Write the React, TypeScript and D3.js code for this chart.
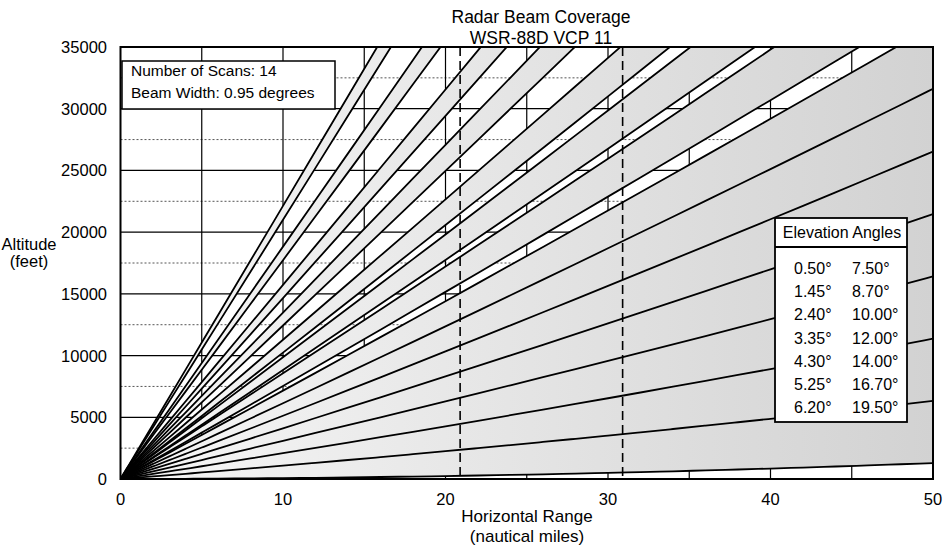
import React from "react";
import * as d3 from "d3";

// ---- data ----
const elevationAngles = [0.5, 1.45, 2.4, 3.35, 4.3, 5.25, 6.2, 7.5, 8.7, 10.0, 12.0, 14.0, 16.7, 19.5];
const beamWidthDeg = 0.95;
const legendLeft = ["0.50°", "1.45°", "2.40°", "3.35°", "4.30°", "5.25°", "6.20°"];
const legendRight = ["7.50°", "8.70°", "10.00°", "12.00°", "14.00°", "16.70°", "19.50°"];
const xTicks = [0, 10, 20, 30, 40, 50];
const xGrid = [5, 10, 15, 20, 25, 30, 35, 40, 45];
const yTicks = [0, 5000, 10000, 15000, 20000, 25000, 30000, 35000];
const yGrid = [5000, 10000, 15000, 20000, 25000, 30000];
const yMinorGrid = [2500, 7500, 12500, 17500, 22500, 27500, 32500];
const dashedRanges = [20.9, 30.9];
const rangeSamples = [0, 0.5, 1, 2, 3, 4, 5, 6, 8, 10, 12, 14, 16, 18, 20, 22, 24, 26, 28, 30, 32, 34, 36, 38, 40, 42, 44, 46, 48, 50];
const FT_PER_NM = 6076;
const CURVATURE_FT_PER_NM2 = 0.463;
const infoLines = ["Number of Scans: 14", "Beam Width: 0.95 degrees"];

const W = 948, H = 556;
const left = 120.5, right = 933, top = 47, bottom = 479;
const FONT = "'Liberation Sans', Arial, Helvetica, sans-serif";

const beamHeight = (r: number, deg: number) =>
  r * FT_PER_NM * Math.tan((deg * Math.PI) / 180) + CURVATURE_FT_PER_NM2 * r * r;

export default function App() {
  const x = d3.scaleLinear().domain([0, 50]).range([left, right]);
  const y = d3.scaleLinear().domain([0, 35000]).range([bottom, top]);

  const edges: number[] = [];
  elevationAngles.forEach((a) => {
    const lo = +(a - beamWidthDeg / 2).toFixed(3);
    const hi = +(a + beamWidthDeg / 2).toFixed(3);
    if (!edges.some((e) => Math.abs(e - lo) < 1e-6)) edges.push(lo);
    if (!edges.some((e) => Math.abs(e - hi) < 1e-6)) edges.push(hi);
  });

  const area = (a: number) =>
    d3
      .area<number>()
      .x((r) => x(r))
      .y0((r) => y(beamHeight(r, a - beamWidthDeg / 2)))
      .y1((r) => y(beamHeight(r, a + beamWidthDeg / 2)))
      .curve(d3.curveMonotoneX)(rangeSamples) || "";

  const line = (deg: number) =>
    d3
      .line<number>()
      .x((r) => x(r))
      .y((r) => y(beamHeight(r, deg)))
      .curve(d3.curveMonotoneX)(rangeSamples) || "";

  const legX = 775, legY = 218, legW = 132, legH = 204;

  return (
    <svg
      width={W}
      height={H}
      viewBox={`0 0 ${W} ${H}`}
      style={{ position: "absolute", left: 0, top: 0, background: "#fff" }}
      fontFamily={FONT}
    >
      <defs>
        <clipPath id="plot">
          <rect x={left} y={top} width={right - left} height={bottom - top} />
        </clipPath>
        <linearGradient id="stipple" gradientUnits="userSpaceOnUse" x1={left} y1={0} x2={right} y2={0}>
          <stop offset="0" stopColor="#f7f7f7" />
          <stop offset="0.45" stopColor="#e6e6e6" />
          <stop offset="1" stopColor="#d2d2d2" />
        </linearGradient>
      </defs>
      <rect x={0} y={0} width={W} height={H} fill="#fff" />

      {/* title */}
      <text x={541} y={23} textAnchor="middle" fontSize={17.5}>Radar Beam Coverage</text>
      <text x={541} y={44} textAnchor="middle" fontSize={17.5}>WSR-88D VCP 11</text>

      <g clipPath="url(#plot)">
        {/* grid */}
        {yMinorGrid.map((v) => (
          <line key={"ym" + v} x1={left} x2={right} y1={y(v)} y2={y(v)} stroke="#555" strokeWidth={1} strokeDasharray="2,2" />
        ))}
        {yGrid.map((v) => (
          <line key={"yg" + v} x1={left} x2={right} y1={y(v)} y2={y(v)} stroke="#000" strokeWidth={1.2} />
        ))}
        {xGrid.map((v) => (
          <line key={"xg" + v} x1={x(v)} x2={x(v)} y1={top} y2={bottom} stroke="#000" strokeWidth={1.2} />
        ))}

        {/* beams */}
        {elevationAngles.map((a) => (
          <path key={"b" + a} d={area(a)} fill="url(#stipple)" stroke="none" />
        ))}
        {edges.map((e) => (
          <path key={"e" + e} d={line(e)} fill="none" stroke="#000" strokeWidth={1.8} />
        ))}

        {/* dashed ranges */}
        {dashedRanges.map((v) => (
          <line key={"d" + v} x1={x(v)} x2={x(v)} y1={top} y2={bottom} stroke="#000" strokeWidth={1.6} strokeDasharray="9,5" />
        ))}
      </g>

      {/* frame */}
      <rect x={left} y={top} width={right - left} height={bottom - top} fill="none" stroke="#000" strokeWidth={2} />

      {/* axes labels */}
      {yTicks.map((v) => (
        <text key={"yt" + v} x={107} y={y(v) + 6} textAnchor="end" fontSize={16.5}>{v}</text>
      ))}
      {xTicks.map((v) => (
        <text key={"xt" + v} x={x(v)} y={505} textAnchor="middle" fontSize={16.5}>{v}</text>
      ))}
      <text x={527} y={522} textAnchor="middle" fontSize={17}>Horizontal Range</text>
      <text x={527} y={542} textAnchor="middle" fontSize={17}>(nautical miles)</text>
      <text x={29} y={250} textAnchor="middle" fontSize={16.5}>Altitude</text>
      <text x={29} y={267} textAnchor="middle" fontSize={16.5}>(feet)</text>

      {/* info box */}
      <rect x={122} y={61} width={213} height={48} fill="#fff" stroke="#000" strokeWidth={1.5} />
      {infoLines.map((t, i) => (
        <text key={t} x={131} y={76 + i * 21.5} fontSize={15.5}>{t}</text>
      ))}

      {/* legend */}
      <rect x={legX} y={legY} width={legW} height={legH} fill="#fff" stroke="#000" strokeWidth={1.8} />
      <line x1={legX} x2={legX + legW} y1={247} y2={247} stroke="#000" strokeWidth={1.8} />
      <text x={legX + legW / 2 + 1} y={238} textAnchor="middle" fontSize={16}>Elevation Angles</text>
      {legendLeft.map((t, i) => (
        <text key={t} x={794} y={274 + i * 23.2} fontSize={16}>{t}</text>
      ))}
      {legendRight.map((t, i) => (
        <text key={t} x={852} y={274 + i * 23.2} fontSize={16}>{t}</text>
      ))}
    </svg>
  );
}
